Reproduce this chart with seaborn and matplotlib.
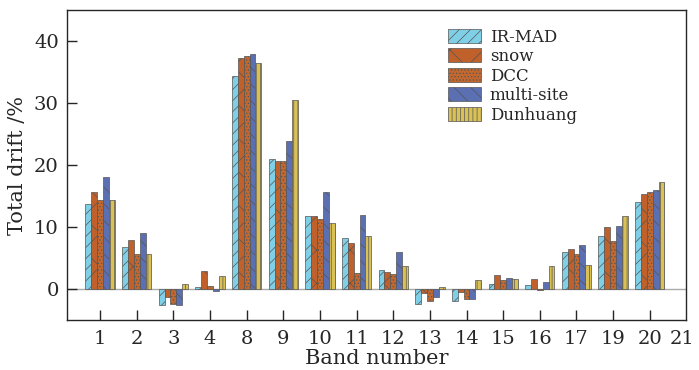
import numpy as np
import pandas as pd
import seaborn as sns
import matplotlib.pyplot as plt
from matplotlib.transforms import ScaledTranslation

# band numbers on the x axis (21 has no bars)
bands = ['1', '2', '3', '4', '8', '9', '10', '11', '12', '13', '14', '15', '16', '17', '19', '20', '21']
methods = ['IR-MAD', 'snow', 'DCC', 'multi-site', 'Dunhuang']

ir_mad = [13.7, 6.7, -2.6, 0.4, 34.3, 20.9, 11.7, 8.2, 3.1, -2.4, -2.0, 0.75, 0.6, 6.0, 8.5, 14.0, np.nan]
snow = [15.6, 7.9, -1.3, 2.9, 37.3, 20.7, 11.8, 7.4, 2.8, -0.6, -0.4, 2.2, 1.6, 6.5, 9.95, 15.4, np.nan]
dcc = [14.3, 5.7, -2.4, 0.5, 37.6, 20.7, 11.3, 2.6, 2.4, -1.9, -1.6, 1.5, -0.1, 5.6, 7.7, 15.7, np.nan]
multi_site = [18.0, 9.0, -2.5, -0.3, 37.9, 23.8, 15.6, 11.9, 6.0, -1.3, -1.6, 1.8, 1.2, 7.1, 10.1, 15.9, np.nan]
dunhuang = [14.3, 5.6, 0.8, 2.1, 36.5, 30.5, 10.6, 8.5, 3.7, 0.4, 1.4, 1.7, 3.7, 3.9, 11.8, 17.2, np.nan]

colors = ['#7fd0e6', '#c0612c', '#c2682f', '#5b6fb3', '#d9c155']
hatches = ['///', 'x', '.....', '\\\\', '||||']

df = pd.DataFrame({'band': bands * 5,
                   'method': np.repeat(methods, len(bands)),
                   'drift': ir_mad + snow + dcc + multi_site + dunhuang})

sns.set_style('ticks')
plt.rcParams['font.family'] = ['DejaVu Serif']
plt.rcParams['hatch.linewidth'] = 0.5
plt.rcParams['hatch.color'] = '#222222'

fig = plt.figure(figsize=(6.99, 3.70), dpi=100)
ax = fig.add_axes([0.096, 0.135, 0.886, 0.838])

sns.barplot(data=df, x='band', y='drift', hue='method', order=bands, hue_order=methods,
            palette=colors, width=0.8, edgecolor='#555555', linewidth=0.5,
            saturation=1, ax=ax)

for cont, h in zip(ax.containers, hatches):
    for bar in cont:
        bar.set_hatch(h)

ax.axhline(0, color='#aaaaaa', lw=1, zorder=0)
ax.set_xlim(-0.9, 16.0)
ax.set_ylim(-5, 45)
ax.set_yticks([0, 10, 20, 30, 40])
ax.tick_params(direction='in', labelsize=14, length=7, width=1)
ax.tick_params(axis='x', pad=7)
ax.tick_params(axis='y', pad=6)
for s in ax.spines.values():
    s.set_visible(True)
    s.set_linewidth(1)
ax.set_xlabel('Band number', fontsize=15, labelpad=1)
ax.set_ylabel('Total drift /%', fontsize=15, labelpad=5)

# last band label sits at the right edge; keep it inside the figure
last = ax.xaxis.get_major_ticks()[-1]
last.tick1line.set_visible(False)
last.label1.set_horizontalalignment('right')
last.label1.set_transform(last.label1.get_transform() +
                          ScaledTranslation(8 / 100, 0, fig.dpi_scale_trans))

handles, labels = ax.get_legend_handles_labels()
for hdl, h in zip(handles, hatches):
    hdl.set_hatch(h)
ax.legend(handles, labels, loc='upper left', bbox_to_anchor=(0.615, 0.94), frameon=False,
          fontsize=12, handlelength=2.0, handleheight=0.9, handletextpad=0.5,
          labelspacing=0.15, borderaxespad=0, borderpad=0)

fig.savefig('out.png', dpi=100)
